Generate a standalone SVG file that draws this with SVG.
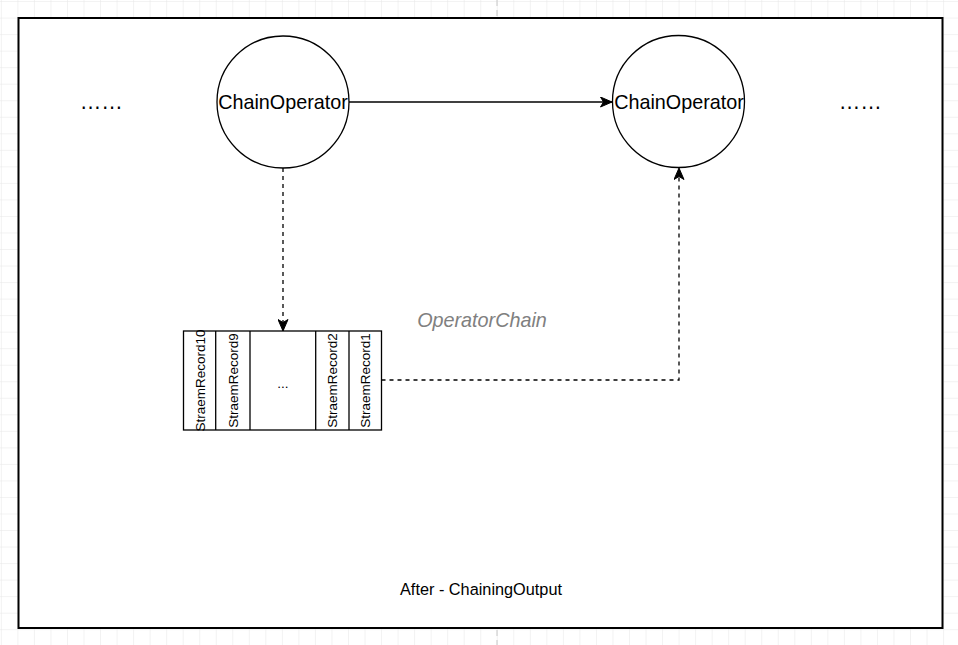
<svg xmlns="http://www.w3.org/2000/svg" width="958" height="645" viewBox="0 0 958 645">
  <defs>
    <pattern id="grid" x="17.4" y="17.6" width="16.53" height="16.53" patternUnits="userSpaceOnUse">
      <path d="M 0 0 L 16.53 0 M 0 0 L 0 16.53" fill="none" stroke="#e6e6e6" stroke-width="1"/>
    </pattern>
    <marker id="arrow" viewBox="0 0 13 11" refX="12" refY="5.5" markerWidth="13" markerHeight="11" markerUnits="userSpaceOnUse" orient="auto">
      <path d="M0.5,0.5 L12,5.5 L0.5,10.5 L3.5,5.5 Z" fill="#000" stroke="#000" stroke-width="1"/>
    </marker>
    <style>
      .node { fill: #fff; stroke: #000; stroke-width: 1.3; }
      .label { font-family: "Liberation Sans", Arial, sans-serif; fill: #000; }
      .edge { fill: none; stroke: #000; stroke-width: 1.3; }
      .dashed { stroke-dasharray: 4 4; }
      .rec { font-family: "Liberation Sans", Arial, sans-serif; font-size: 13.5px; fill: #000; text-anchor: middle; }
    </style>
  </defs>

  <rect x="0" y="0" width="958" height="645" fill="#fff"/>
  <rect x="0" y="0" width="958" height="645" fill="url(#grid)"/>
  <line x1="497" y1="0" x2="497" y2="645" stroke="#c8c8c8" stroke-width="1" stroke-dasharray="6 4"/>

  <g id="container">
    <rect x="18.5" y="18" width="924" height="610" fill="#fff" stroke="#000" stroke-width="2"/>
    <text class="label" x="481" y="595" font-size="16.3" text-anchor="middle">After - ChainingOutput</text>
  </g>

  <g id="dots-left">
    <text class="label" x="101.3" y="108.5" font-size="21.6" text-anchor="middle">……</text>
  </g>
  <g id="dots-right">
    <text class="label" x="860.3" y="108.5" font-size="21.6" text-anchor="middle">……</text>
  </g>

  <g id="op-chain-label">
    <text x="482" y="327" font-family="Liberation Sans, Arial, sans-serif" font-size="19.8" font-style="italic" fill="#808080" text-anchor="middle">OperatorChain</text>
  </g>

  <g id="chain-operator-1">
    <circle class="node" cx="283" cy="102" r="66"/>
    <text class="label" x="283" y="108.5" font-size="19.8" text-anchor="middle">ChainOperator</text>
  </g>

  <g id="chain-operator-2">
    <circle class="node" cx="678.5" cy="101.5" r="66"/>
    <text class="label" x="679" y="109" font-size="19.8" text-anchor="middle">ChainOperator</text>
  </g>

  <g id="records">
    <rect x="183.5" y="331" width="198" height="99" fill="#fff" stroke="#000" stroke-width="1.3"/>
    <line x1="215.7" y1="331" x2="215.7" y2="430" stroke="#000" stroke-width="1.3"/>
    <line x1="250" y1="331" x2="250" y2="430" stroke="#000" stroke-width="1.3"/>
    <line x1="315.7" y1="331" x2="315.7" y2="430" stroke="#000" stroke-width="1.3"/>
    <line x1="349" y1="331" x2="349" y2="430" stroke="#000" stroke-width="1.3"/>
    <text class="rec" transform="translate(204.5,380.5) rotate(-90)">StraemRecord10</text>
    <text class="rec" transform="translate(237.5,380.5) rotate(-90)">StraemRecord9</text>
    <text class="rec" x="283" y="388">...</text>
    <text class="rec" transform="translate(337,380.5) rotate(-90)">StraemRecord2</text>
    <text class="rec" transform="translate(370,380.5) rotate(-90)">StraemRecord1</text>
  </g>

  <g id="connectors">
    <path class="edge" d="M349,102 L612,102" marker-end="url(#arrow)"/>
    <path class="edge dashed" d="M283,168 L283,331" marker-end="url(#arrow)"/>
    <path class="edge dashed" d="M381.5,380 L679,380 L679,168" marker-end="url(#arrow)"/>
  </g>
</svg>
